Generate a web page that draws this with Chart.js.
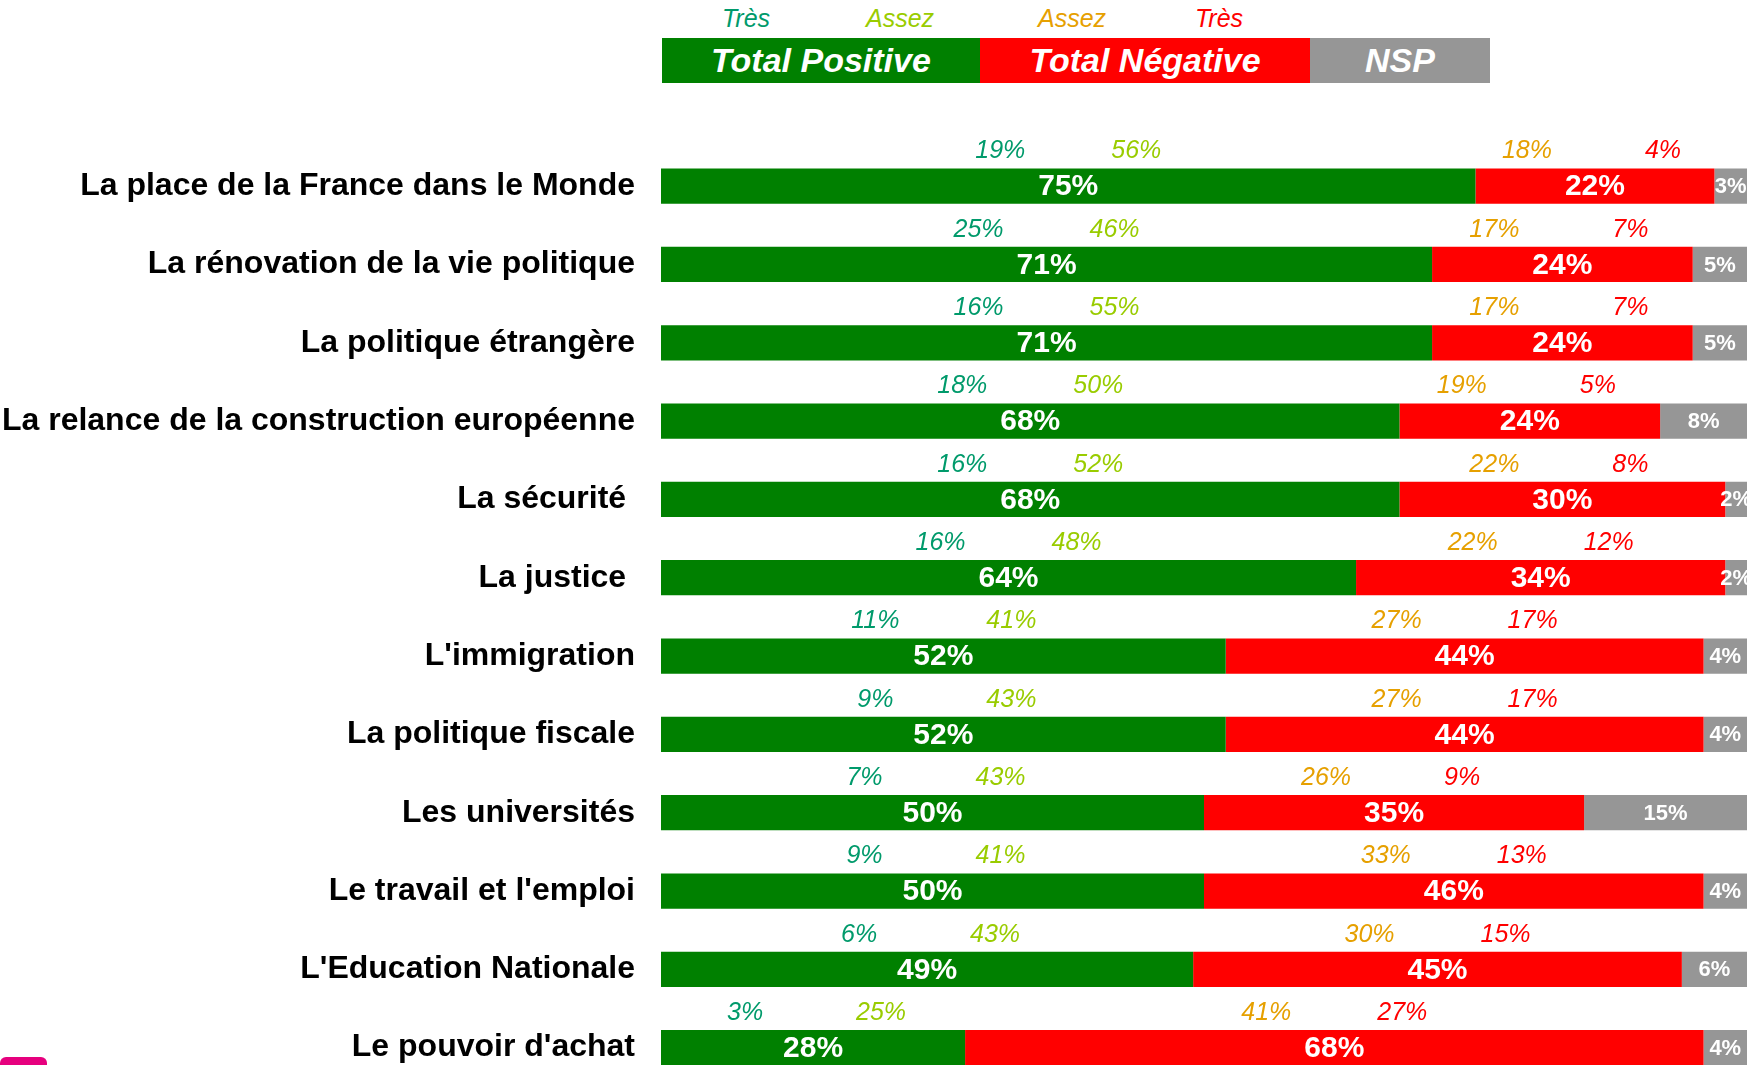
<!DOCTYPE html>
<html>
<head>
<meta charset="utf-8">
<script src="https://cdn.jsdelivr.net/npm/chart.js@4/dist/chart.umd.min.js"></script>
<style>
  html, body { margin: 0; padding: 0; background: #fff; overflow: hidden; }
  body { width: 1759px; height: 1065px; position: relative; font-family: "Liberation Sans", Arial, sans-serif; }
  #wrap { position: absolute; left: 0; top: 0; width: 1759px; height: 1132px; }
  .sub { position: absolute; top: 4px; font-style: italic; font-size: 25px; transform: translateX(-50%); white-space: nowrap; }
  .box { position: absolute; top: 38px; height: 45px; line-height: 45px; text-align: center; color: #fff;
         font-weight: bold; font-style: italic; font-size: 34px; }
  #logo { position: absolute; left: 0; top: 1057px; width: 47px; height: 20px; background: #e6007e; border-radius: 6px 6px 0 0; }
</style>
</head>
<body>
<div class="sub" style="left:746px;color:#009a6b">Très</div>
<div class="sub" style="left:900px;color:#99cc00">Assez</div>
<div class="sub" style="left:1072px;color:#e6a000">Assez</div>
<div class="sub" style="left:1219px;color:#ff0000">Très</div>
<div class="box" style="left:662px;width:318px;background:#008000">Total Positive</div>
<div class="box" style="left:980px;width:330px;background:#ff0000">Total Négative</div>
<div class="box" style="left:1310px;width:180px;background:#969696">NSP</div>
<div id="wrap"><canvas id="c" width="1759" height="1132"></canvas></div>
<div id="logo"></div>
<script>
const categories = [
  'La place de la France dans le Monde',
  'La rénovation de la vie politique',
  'La politique étrangère',
  'La relance de la construction européenne',
  'La sécurité ',
  'La justice ',
  "L'immigration",
  'La politique fiscale',
  'Les universités',
  "Le travail et l'emploi",
  "L'Education Nationale",
  "Le pouvoir d'achat"
];
const totalPositive = [75, 71, 71, 68, 68, 64, 52, 52, 50, 50, 49, 28];
const totalNegative = [22, 24, 24, 24, 30, 34, 44, 44, 35, 46, 45, 68];
const nsp = [3, 5, 5, 8, 2, 2, 4, 4, 15, 4, 6, 4];
const tresPositive = [19, 25, 16, 18, 16, 16, 11, 9, 7, 9, 6, 3];
const assezPositive = [56, 46, 55, 50, 52, 48, 41, 43, 43, 41, 43, 25];
const assezNegative = [18, 17, 17, 19, 22, 22, 27, 27, 26, 33, 30, 41];
const tresNegative = [4, 7, 7, 5, 8, 12, 17, 17, 9, 13, 15, 27];

const FONT = '"Liberation Sans", Arial, sans-serif';

// value labels inside the bars + detail labels above green/red segments
const segLabels = {
  id: 'segLabels',
  afterDatasetsDraw(chart) {
    const { ctx, chartArea } = chart;
    ctx.save();
    ctx.beginPath();
    ctx.rect(chartArea.left, 0, chartArea.right - chartArea.left, chart.height);
    ctx.clip();
    ctx.textAlign = 'center';
    ctx.textBaseline = 'middle';
    chart.data.datasets.forEach((ds, di) => {
      chart.getDatasetMeta(di).data.forEach((bar, i) => {
        const cx = (bar.x + bar.base) / 2;
        ctx.fillStyle = '#fff';
        ctx.font = di === 2 ? `bold 22px ${FONT}` : `bold 30px ${FONT}`;
        ctx.fillText(ds.data[i] + '%', cx, bar.y + 1);
        if (di === 2) return;
        const subs = di === 0 ? [tresPositive, assezPositive] : [assezNegative, tresNegative];
        const cols = di === 0 ? ['#009a6b', '#99cc00'] : ['#e6a000', '#ff0000'];
        const ty = bar.y - bar.height / 2 - 17;
        ctx.font = `italic 25px ${FONT}`;
        ctx.fillStyle = cols[0];
        ctx.fillText(subs[0][i] + '%', cx - 68, ty);
        ctx.fillStyle = cols[1];
        ctx.fillText(subs[1][i] + '%', cx + 68, ty);
      });
    });
    ctx.restore();
  }
};

new Chart(document.getElementById('c').getContext('2d'), {
  type: 'bar',
  data: {
    labels: categories,
    datasets: [
      { label: 'Total Positive', data: totalPositive, backgroundColor: '#008000' },
      { label: 'Total Négative', data: totalNegative, backgroundColor: '#ff0000' },
      { label: 'NSP', data: nsp, backgroundColor: '#969696' }
    ]
  },
  options: {
    indexAxis: 'y',
    responsive: false,
    animation: false,
    devicePixelRatio: 1,
    layout: { padding: { top: 147, bottom: 42, right: 12, left: 0 } },
    datasets: { bar: { categoryPercentage: 0.45, barPercentage: 1, borderWidth: 0 } },
    plugins: { legend: { display: false }, tooltip: { enabled: false } },
    scales: {
      x: { stacked: true, min: 0, max: 100, display: false },
      y: {
        stacked: true,
        grid: { display: false, drawTicks: false },
        border: { display: false },
        ticks: { color: '#000', padding: 26, font: { family: FONT, size: 32, weight: 'bold' } },
        afterFit(scale) { scale.width = 661; }
      }
    }
  },
  plugins: [segLabels]
});
</script>
</body>
</html>
